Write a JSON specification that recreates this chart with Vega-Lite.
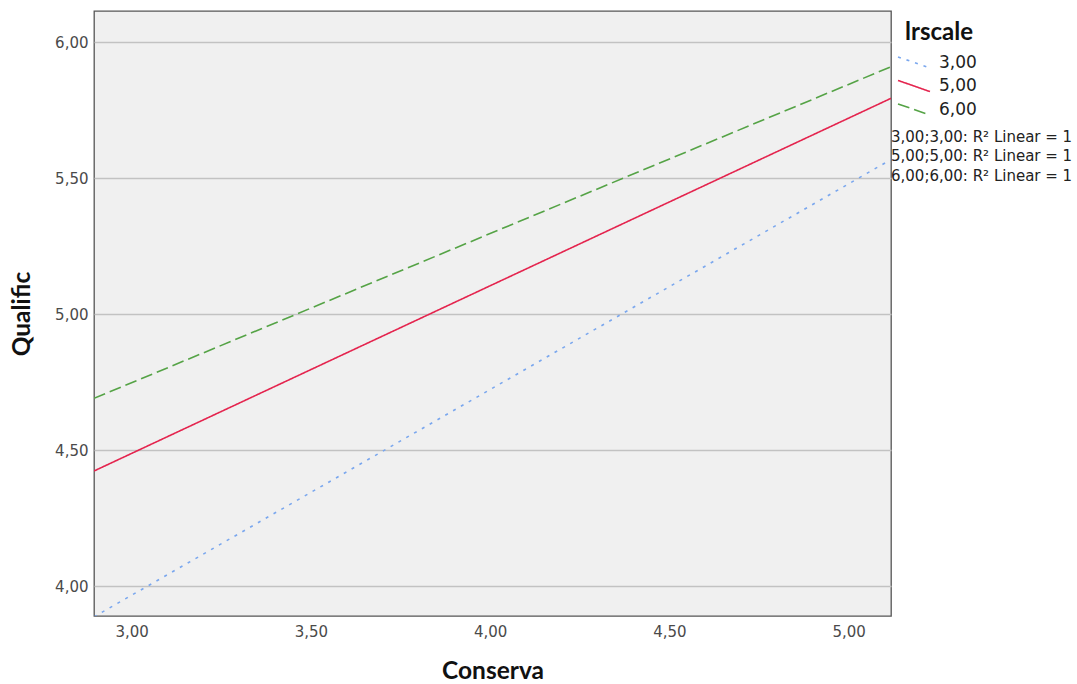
{
  "$schema": "https://vega.github.io/schema/vega-lite/v6.json",
  "width": 797,
  "height": 605,
  "autosize": {"type": "none"},
  "padding": {"left": 94, "top": 11, "right": 186, "bottom": 68},
  "background": "white",
  "config": {
    "view": {"fill": "#f0f0f0", "stroke": "#555555", "strokeWidth": 1.3},
    "axis": {
      "labelFont": "DejaVu Sans",
      "labelFontSize": 15,
      "labelColor": "#4a4a4a",
      "titleFont": "Lato",
      "titleFontSize": 24.5,
      "titleFontWeight": "bold",
      "titleColor": "#111111",
      "ticks": false,
      "domain": false
    },
    "legend": {
      "labelFont": "DejaVu Sans",
      "titleFont": "Lato"
    }
  },
  "data": {
    "values": [
      {"lrscale": "3,00", "fit": "3,00;3,00: R² Linear = 1", "Conserva": 2.895, "Qualific": 3.887},
      {"lrscale": "3,00", "fit": "3,00;3,00: R² Linear = 1", "Conserva": 5.118, "Qualific": 5.568},
      {"lrscale": "5,00", "fit": "5,00;5,00: R² Linear = 1", "Conserva": 2.895, "Qualific": 4.423},
      {"lrscale": "5,00", "fit": "5,00;5,00: R² Linear = 1", "Conserva": 5.118, "Qualific": 5.793},
      {"lrscale": "6,00", "fit": "6,00;6,00: R² Linear = 1", "Conserva": 2.895, "Qualific": 4.690},
      {"lrscale": "6,00", "fit": "6,00;6,00: R² Linear = 1", "Conserva": 5.118, "Qualific": 5.909}
    ]
  },
  "mark": {"type": "line", "strokeWidth": 1.6, "clip": true},
  "encoding": {
    "x": {
      "field": "Conserva",
      "type": "quantitative",
      "scale": {"domain": [2.895, 5.118], "nice": false, "zero": false},
      "axis": {
        "values": [3, 3.5, 4, 4.5, 5],
        "grid": false,
        "labelPadding": 8,
        "titlePadding": 20,
        "labelExpr": "replace(format(datum.value, '.2f'), '.', ',')"
      }
    },
    "y": {
      "field": "Qualific",
      "type": "quantitative",
      "scale": {"domain": [3.89, 6.114], "nice": false, "zero": false},
      "axis": {
        "values": [4, 4.5, 5, 5.5, 6],
        "grid": true,
        "gridColor": "#c2c2c2",
        "gridWidth": 1.3,
        "labelPadding": 6,
        "titlePadding": 20,
        "labelExpr": "replace(format(datum.value, '.2f'), '.', ',')"
      }
    },
    "color": {
      "field": "lrscale",
      "type": "nominal",
      "title": "lrscale",
      "scale": {"domain": ["3,00", "5,00", "6,00"], "range": ["#7aa7ee", "#e4244e", "#55a346"]},
      "legend": {
        "orient": "none",
        "legendX": 811,
        "legendY": 10,
        "padding": 0,
        "titleFontSize": 24,
        "titleFontWeight": "bold",
        "titleColor": "#111111",
        "titlePadding": 8.5,
        "labelFontSize": 17,
        "labelColor": "#222222",
        "labelOffset": 16,
        "rowPadding": 5.5,
        "symbolType": "M -2 -0.7 L 2 0.7",
        "symbolSize": 256,
        "symbolStrokeWidth": 1.6
      }
    },
    "strokeDash": {
      "field": "lrscale",
      "type": "nominal",
      "title": "lrscale",
      "scale": {"domain": ["3,00", "5,00", "6,00"], "range": [[3, 6], [1, 0], [12, 5]]}
    },
    "opacity": {
      "field": "fit",
      "type": "nominal",
      "scale": {"range": [1, 1, 1]},
      "legend": {
        "title": null,
        "orient": "none",
        "legendX": 782,
        "legendY": 118,
        "padding": 0,
        "symbolSize": 0,
        "symbolOpacity": 0,
        "symbolStrokeWidth": 0,
        "labelOffset": 0,
        "labelLimit": 0,
        "labelFontSize": 15,
        "labelColor": "#222222",
        "rowPadding": 3.5
      }
    }
  }
}
